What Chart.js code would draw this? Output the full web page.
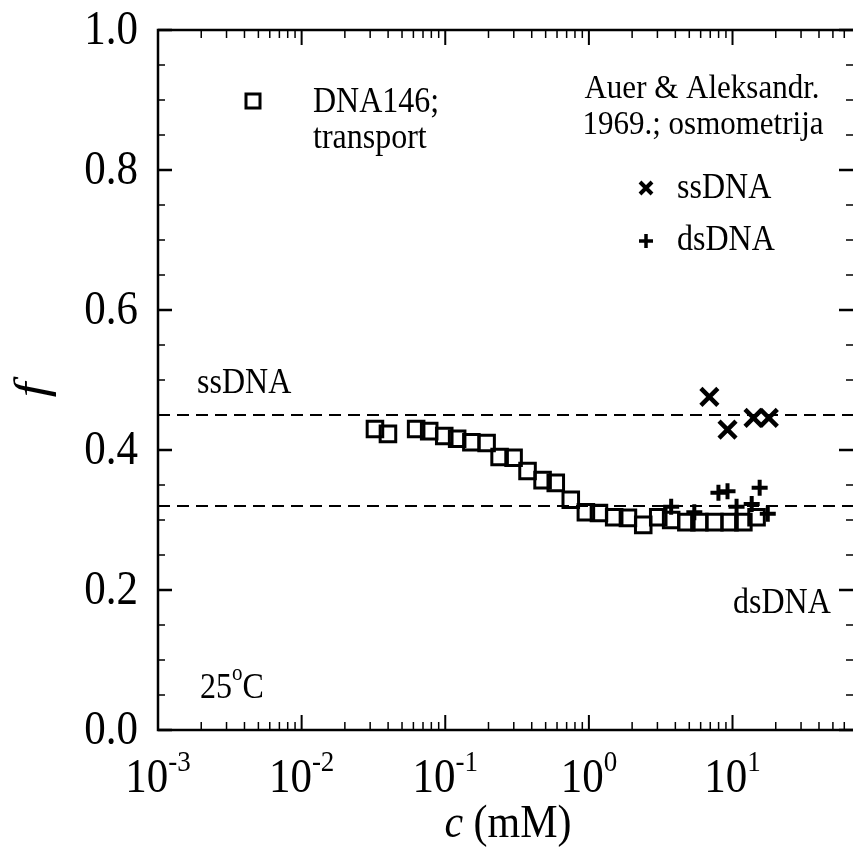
<!DOCTYPE html>
<html>
<head>
<meta charset="utf-8">
<script src="https://cdn.jsdelivr.net/npm/chart.js@4.4.0/dist/chart.umd.min.js"></script>
<style>
html, body { margin: 0; padding: 0; background: #fff; overflow: hidden; }
canvas { display: block; }
</style>
</head>
<body>
<canvas id="fChart" width="853" height="860"></canvas>
<script>
// DNA146; transport  (c in mM, f)
var transportC = [0.0324, 0.0399, 0.0627, 0.0773, 0.0984, 0.121, 0.152, 0.194, 0.239, 0.299,
                  0.374, 0.476, 0.588, 0.748, 0.953, 1.175, 1.50, 1.87, 2.39, 3.04,
                  3.74, 4.77, 5.88, 7.48, 9.53, 11.9, 14.7];
var transportF = [0.430, 0.423, 0.430, 0.427, 0.420, 0.416, 0.411, 0.410, 0.390, 0.389,
                  0.370, 0.357, 0.353, 0.329, 0.311, 0.310, 0.304, 0.303, 0.293, 0.304,
                  0.300, 0.297, 0.297, 0.297, 0.297, 0.297, 0.304];
// Auer & Aleksandr. 1969., osmometrija
var ssC = [6.9, 9.23, 14.0, 17.9];
var ssF = [0.476, 0.429, 0.446, 0.446];
var dsC = [3.74, 5.42, 7.98, 9.23, 10.67, 13.6, 15.45, 17.6];
var dsF = [0.319, 0.311, 0.339, 0.341, 0.319, 0.323, 0.346, 0.309];
// reference levels
var ssLevel = 0.45;
var dsLevel = 0.32;
// axes
var xMin = 0.001, xMax = 69;
var xTicks = [0.001, 0.01, 0.1, 1, 10];
var xTickExp = ['-3', '-2', '-1', '0', '1'];
var yTicks = [0, 0.2, 0.4, 0.6, 0.8, 1.0];
var yTickLabels = ['0.0', '0.2', '0.4', '0.6', '0.8', '1.0'];

function pts(xs, ys) {
  var out = [];
  for (var i = 0; i < xs.length; i++) out.push({x: xs[i], y: ys[i]});
  return out;
}

var serif = '"Liberation Serif", "Times New Roman", serif';
var stretchY = 1.12;   // glyphs in the original are a bit taller than wide

// text drawn with a small vertical stretch around its anchor
function txt(ctx, s, x, y) {
  ctx.save();
  ctx.translate(x, y);
  ctx.scale(1, stretchY);
  ctx.fillText(s, 0, 0);
  ctx.restore();
}

var framePlugin = {
  id: 'frame',
  afterDraw: function(chart) {
    var ctx = chart.ctx, a = chart.chartArea;
    var xs = chart.scales.x, ys = chart.scales.y;
    ctx.save();
    ctx.strokeStyle = '#000';
    ctx.fillStyle = '#000';
    ctx.lineWidth = 2.5;
    // frame
    ctx.beginPath();
    ctx.moveTo(a.right + 2, a.top);
    ctx.lineTo(a.left, a.top);
    ctx.lineTo(a.left, a.bottom);
    ctx.lineTo(a.right + 2, a.bottom);
    ctx.stroke();

    // x ticks (log, inward, top and bottom)
    for (var d = -3; d <= 1; d++) {
      for (var k = 1; k <= 9; k++) {
        var v = k * Math.pow(10, d);
        if (v > xMax) continue;
        var px = xs.getPixelForValue(v);
        var len = (k === 1) ? 15 : 8;
        ctx.lineWidth = (k === 1) ? 2 : 1.5;
        ctx.beginPath();
        ctx.moveTo(px, a.bottom); ctx.lineTo(px, a.bottom - len);
        ctx.moveTo(px, a.top); ctx.lineTo(px, a.top + len);
        ctx.stroke();
      }
    }
    // y ticks every 0.05, major every 0.2
    for (var i = 0; i <= 20; i++) {
      var yv = i * 0.05;
      var py = ys.getPixelForValue(yv);
      var major = (i % 4 === 0);
      var l = major ? 14 : 7;
      ctx.lineWidth = major ? 2.5 : 1.5;
      ctx.beginPath();
      ctx.moveTo(a.left, py); ctx.lineTo(a.left + l, py);
      ctx.moveTo(a.right, py); ctx.lineTo(a.right - l, py);
      ctx.stroke();
    }

    // y tick labels
    ctx.font = '43px ' + serif;
    ctx.textAlign = 'right';
    ctx.textBaseline = 'middle';
    for (var j = 0; j < yTicks.length; j++) {
      txt(ctx, yTickLabels[j], a.left - 20, ys.getPixelForValue(yTicks[j]) + 1);
    }

    // x tick labels 10^n
    ctx.textBaseline = 'alphabetic';
    ctx.textAlign = 'left';
    for (var m = 0; m < xTicks.length; m++) {
      var cx = xs.getPixelForValue(xTicks[m]);
      ctx.font = '43px ' + serif;
      var w1 = ctx.measureText('10').width;
      ctx.font = '27px ' + serif;
      var w2 = ctx.measureText(xTickExp[m]).width;
      var x0 = cx - (w1 + w2) / 2;
      ctx.font = '43px ' + serif;
      txt(ctx, '10', x0, 792);
      ctx.font = '27px ' + serif;
      txt(ctx, xTickExp[m], x0 + w1, 771);
    }

    // x axis title
    ctx.font = 'italic 42px ' + serif;
    var wc = ctx.measureText('c').width;
    ctx.font = '42px ' + serif;
    var wr = ctx.measureText(' (mM)').width;
    var tx = 508 - (wc + wr) / 2;
    ctx.font = 'italic 42px ' + serif;
    txt(ctx, 'c', tx, 837);
    ctx.font = '42px ' + serif;
    txt(ctx, ' (mM)', tx + wc, 837);

    // y axis title
    ctx.save();
    ctx.translate(34, 390);
    ctx.rotate(-Math.PI / 2);
    ctx.font = 'italic 46px ' + serif;
    ctx.textAlign = 'center';
    ctx.textBaseline = 'middle';
    ctx.scale(1.15, 1);
    ctx.fillText('f', 0, 0);
    ctx.restore();

    // annotations
    ctx.font = '32px ' + serif;
    ctx.textBaseline = 'middle';
    ctx.textAlign = 'left';
    txt(ctx, 'ssDNA', 197, 384);
    txt(ctx, 'dsDNA', 733, 604);
    txt(ctx, '25', 200, 689);
    var w25 = ctx.measureText('25').width;
    ctx.font = '21px ' + serif;
    txt(ctx, 'o', 200 + w25, 674);
    var wo = ctx.measureText('o').width;
    ctx.font = '32px ' + serif;
    txt(ctx, 'C', 200 + w25 + wo, 689);

    // legend: DNA146
    ctx.lineWidth = 3;
    ctx.strokeRect(246, 94, 14, 14);
    txt(ctx, 'DNA146;', 313, 103);
    txt(ctx, 'transport', 313, 139);
    // legend: Auer & Aleksandr.
    ctx.font = '31px ' + serif;
    ctx.textAlign = 'center';
    txt(ctx, 'Auer & Aleksandr.', 702, 89);
    txt(ctx, '1969.; osmometrija', 703, 125);
    ctx.font = '32px ' + serif;
    ctx.textAlign = 'left';
    ctx.lineWidth = 4;
    ctx.beginPath();
    ctx.moveTo(640, 182); ctx.lineTo(652, 194);
    ctx.moveTo(652, 182); ctx.lineTo(640, 194);
    ctx.stroke();
    txt(ctx, 'ssDNA', 677, 189);
    ctx.lineWidth = 3.5;
    ctx.beginPath();
    ctx.moveTo(639, 241); ctx.lineTo(653, 241);
    ctx.moveTo(646, 234); ctx.lineTo(646, 248);
    ctx.stroke();
    txt(ctx, 'dsDNA', 677, 241);
    ctx.restore();
  }
};

var ctx = document.getElementById('fChart');
var myChart = new Chart(ctx, {
  type: 'scatter',
  data: {
    datasets: [
      {
        type: 'line',
        data: [{x: xMin, y: ssLevel}, {x: xMax, y: ssLevel}],
        borderColor: '#000', borderWidth: 2, borderDash: [12, 7],
        pointRadius: 0, fill: false
      },
      {
        type: 'line',
        data: [{x: xMin, y: dsLevel}, {x: xMax, y: dsLevel}],
        borderColor: '#000', borderWidth: 2, borderDash: [12, 7],
        pointRadius: 0, fill: false
      },
      {
        label: 'DNA146; transport',
        data: pts(transportC, transportF),
        pointStyle: 'rect', pointRadius: 11, pointBorderWidth: 3,
        borderColor: '#000', backgroundColor: 'rgba(0,0,0,0)'
      },
      {
        label: 'ssDNA',
        data: pts(ssC, ssF),
        pointStyle: 'crossRot', pointRadius: 12, pointBorderWidth: 4.5,
        borderColor: '#000', backgroundColor: '#000'
      },
      {
        label: 'dsDNA',
        data: pts(dsC, dsF),
        pointStyle: 'cross', pointRadius: 8, pointBorderWidth: 4,
        borderColor: '#000', backgroundColor: '#000'
      }
    ]
  },
  options: {
    responsive: false,
    animation: false,
    layout: { autoPadding: false, padding: { left: 158, top: 30, right: 0, bottom: 130 } },
    plugins: { legend: { display: false }, tooltip: { enabled: false } },
    scales: {
      x: { type: 'logarithmic', min: xMin, max: xMax, display: false },
      y: { min: 0, max: 1, display: false }
    }
  },
  plugins: [framePlugin]
});
</script>
</body>
</html>
